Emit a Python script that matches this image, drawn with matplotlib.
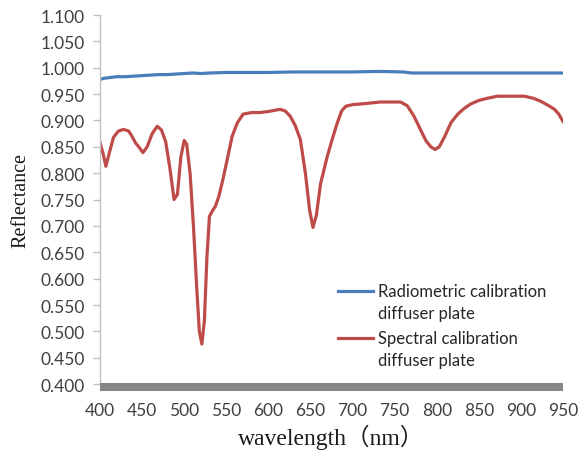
import matplotlib
matplotlib.use("Agg")
import matplotlib.pyplot as plt
from matplotlib.legend_handler import HandlerLine2D
import numpy as np

# Data
blue_wl = [400, 405, 410, 420, 430, 440, 450, 460, 470, 480, 490, 500, 510, 520, 530, 550, 580, 600, 630, 650, 700, 730, 760, 770, 800, 850, 900, 950]
blue_val = [0.978, 0.980, 0.981, 0.983, 0.983, 0.984, 0.985, 0.986, 0.987, 0.987, 0.988, 0.989, 0.990, 0.989, 0.990, 0.991, 0.991, 0.991, 0.992, 0.992, 0.992, 0.993, 0.992, 0.990, 0.990, 0.990, 0.990, 0.990]

red_wl = [400, 404, 407, 411, 416, 422, 428, 434, 438, 442, 447, 451, 456, 462, 468, 473, 478, 483, 488, 492, 496, 500, 503, 507, 511, 515, 518, 521, 524, 527, 530, 534, 537, 541, 546, 551, 557, 563, 570, 580, 590, 600, 610, 614, 620, 626, 632, 638, 644, 649, 653, 657, 662, 670, 676, 682, 687, 692, 700, 715, 733, 745, 757, 765, 773, 780, 787, 793, 798, 803, 809, 817, 825, 832, 840, 850, 860, 872, 885, 904, 915, 924, 933, 940, 945, 950]
red_val = [0.858, 0.835, 0.813, 0.838, 0.868, 0.880, 0.883, 0.880, 0.870, 0.858, 0.848, 0.839, 0.850, 0.875, 0.889, 0.882, 0.860, 0.810, 0.750, 0.760, 0.830, 0.862, 0.855, 0.800, 0.700, 0.580, 0.500, 0.476, 0.520, 0.640, 0.718, 0.730, 0.737, 0.755, 0.788, 0.825, 0.870, 0.895, 0.912, 0.915, 0.915, 0.917, 0.920, 0.921, 0.918, 0.908, 0.890, 0.864, 0.800, 0.730, 0.697, 0.720, 0.780, 0.832, 0.865, 0.896, 0.918, 0.927, 0.930, 0.932, 0.935, 0.935, 0.935, 0.928, 0.908, 0.885, 0.862, 0.850, 0.845, 0.850, 0.868, 0.896, 0.912, 0.922, 0.931, 0.938, 0.942, 0.946, 0.946, 0.946, 0.942, 0.936, 0.928, 0.921, 0.912, 0.898]

y_ticks = [0.400, 0.450, 0.500, 0.550, 0.600, 0.650, 0.700, 0.750, 0.800, 0.850, 0.900, 0.950, 1.000, 1.050, 1.100]
x_ticks = [400, 450, 500, 550, 600, 650, 700, 750, 800, 850, 900, 950]


class UpLine(HandlerLine2D):
    """Legend key aligned with the first line of a two-line label."""
    def create_artists(self, legend, orig_handle, xdescent, ydescent, width,
                       height, fontsize, trans):
        arts = super().create_artists(legend, orig_handle, xdescent, ydescent,
                                      width, height, fontsize, trans)
        for a in arts:
            a.set_ydata(np.asarray(a.get_ydata(), dtype=float) + 0.72 * fontsize)
        return arts


fig = plt.figure(figsize=(5.80, 4.52), dpi=100)
ax = fig.add_axes([0.1724, 0.148, 0.7983, 0.8166])

ax.plot(blue_wl, blue_val, color="#4a7ebb", lw=2.3, label="Radiometric calibration\ndiffuser plate")
ax.plot(red_wl, red_val, color="#be4b48", lw=2.3, label="Spectral calibration\ndiffuser plate")

ax.set_xlim(400, 950)
ax.set_ylim(0.4, 1.1)
ax.set_xticks(x_ticks)
ax.set_yticks(y_ticks)
ax.set_yticklabels([f"{v:.3f}" for v in y_ticks])
ax.set_xticklabels([str(v) for v in x_ticks])

for s in ["top", "right"]:
    ax.spines[s].set_visible(False)
ax.spines["left"].set_color("#bfbfbf")
ax.spines["left"].set_linewidth(1.0)
ax.spines["bottom"].set_color("#878787")
ax.spines["bottom"].set_linewidth(5.8)
ax.spines["bottom"].set_position(("outward", 2))
ax.spines["bottom"].set_capstyle("butt")

ax.tick_params(axis="y", direction="out", length=5, color="#bfbfbf", width=1,
               labelsize=12.5, labelcolor="#404040", pad=6)
ax.tick_params(axis="x", length=0, labelsize=12.5, labelcolor="#404040", pad=11)
for lab in ax.get_xticklabels() + ax.get_yticklabels():
    lab.set_family("Lato")

ax.set_ylabel("Reflectance", family=["Liberation Serif"], fontsize=14.5, labelpad=7, color="#1a1a1a")
ax.set_xlabel("wavelength（nm）", family=["Liberation Serif", "Noto Sans CJK SC"], fontsize=17, labelpad=4, color="#1a1a1a")

leg = ax.legend(loc="lower left", bbox_to_anchor=(0.482, 0.003), frameon=False,
                prop={"family": "Lato", "size": 12}, handlelength=2.1, handletextpad=0.3,
                labelspacing=0.55, labelcolor="#262626",
                handler_map={matplotlib.lines.Line2D: UpLine()})
for t in leg.get_texts():
    t.set_linespacing(1.45)

fig.savefig("out.png", dpi=100, facecolor="white")
